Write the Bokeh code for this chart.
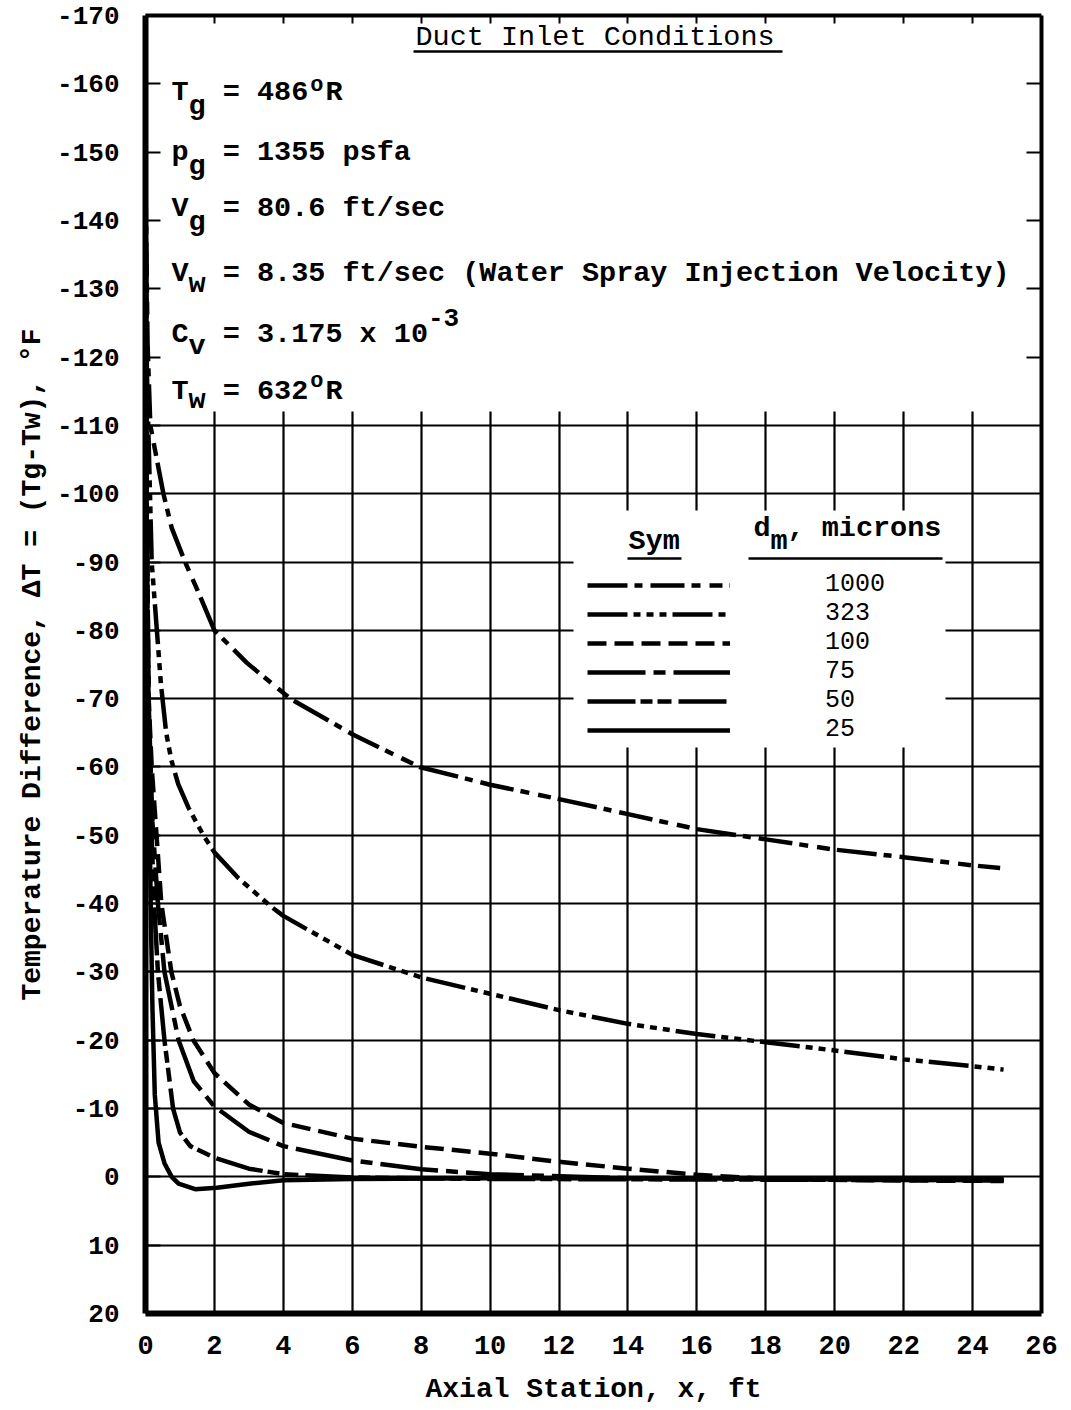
from bokeh.plotting import figure
from bokeh.models import Range1d, LinearAxis, FixedTicker, Label, Legend, LegendItem, BoxAnnotation
from bokeh.embed import file_html
from bokeh.resources import INLINE
from bokeh.core.properties import value

FONT = "Liberation Mono"

# ---------------- data ----------------
sizes = ["1000", "323", "100", "75", "50", "25"]

x_1000 = [0.0, 0.06, 0.14, 0.33, 0.52, 0.76, 1.15, 1.54, 2.0, 2.95, 4.2, 6.0, 7.95, 10.0, 12.0, 14.0, 16.0, 18.0, 20.0, 22.0, 24.0, 24.8]
y_1000 = [-146, -122, -110, -105, -100, -95, -90, -85.5, -80, -75.2, -70, -64.8, -60, -57.4, -55.3, -53.1, -50.9, -49.4, -47.9, -46.8, -45.6, -45.2]

x_323 = [0.0, 0.04, 0.18, 0.33, 0.45, 0.6, 0.75, 0.95, 1.25, 1.68, 2.0, 2.7, 3.66, 4.0, 6.0, 8.0, 10.0, 12.0, 14.0, 16.0, 18.0, 20.0, 22.0, 24.0, 24.9]
y_323 = [-146, -118, -90, -80, -72, -65, -61, -57.5, -54, -50, -47.5, -43.7, -39.5, -38.2, -32.5, -29.2, -26.8, -24.4, -22.4, -20.9, -19.7, -18.5, -17.2, -16.2, -15.7]

x_100 = [0.0, 0.03, 0.09, 0.18, 0.32, 0.46, 0.75, 1.0, 1.39, 2.0, 3.0, 4.0, 6.0, 8.0, 10.0, 12.0, 14.0, 16.0, 18.0, 21.0, 24.9]
y_100 = [-146, -100, -70, -60, -50, -40, -30, -25, -20, -15.2, -10.6, -7.9, -5.6, -4.4, -3.4, -2.2, -1.2, -0.3, 0.3, 0.5, 0.6]

x_75 = [0.0, 0.04, 0.1, 0.2, 0.36, 0.55, 0.96, 1.4, 2.0, 3.0, 4.0, 6.0, 8.0, 10.0, 14.0, 24.9]
y_75 = [-146, -95, -68, -52, -40, -30, -20, -14, -10.3, -6.6, -4.5, -2.4, -1.1, -0.4, 0.2, 0.5]

x_50 = [0.0, 0.03, 0.07, 0.14, 0.25, 0.36, 0.55, 0.8, 1.0, 1.3, 2.0, 3.0, 4.0, 6.0, 10.0, 24.9]
y_50 = [-146, -100, -75, -55, -40, -30, -20, -10, -6.5, -4.5, -2.8, -1.2, -0.4, 0.1, 0.3, 0.5]

x_25 = [0.0, 0.02, 0.05, 0.1, 0.15, 0.2, 0.27, 0.38, 0.55, 0.76, 0.96, 1.44, 2.07, 3.0, 4.0, 6.0, 10.0, 24.9]
y_25 = [-146, -110, -80, -60, -40, -25, -12, -5, -2, 0.0, 1.0, 1.8, 1.6, 1.0, 0.5, 0.3, 0.2, 0.3]

x_ticks = [0, 2, 4, 6, 8, 10, 12, 14, 16, 18, 20, 22, 24, 26]
y_ticks = [-170, -160, -150, -140, -130, -120, -110, -100, -90, -80, -70, -60, -50, -40, -30, -20, -10, 0, 10, 20]
grid_x = [2, 4, 6, 8, 10, 12, 14, 16, 18, 20, 22, 24]
grid_y = [-110, -100, -90, -80, -70, -60, -50, -40, -30, -20, -10, 0, 10]
upper_y_ticks = [-160, -150, -140, -130, -120]

dashes = {
    "1000": "40 7 8 8 34 7 9 9 13 7",
    "323": "40 6 7 6 7 6 7 6",
    "100": "19 8",
    "75": "58 8 12 8",
    "50": "48 5 12 5 14 7",
    "25": "solid",
}
series = [("1000", x_1000, y_1000), ("323", x_323, y_323), ("100", x_100, y_100),
          ("75", x_75, y_75), ("50", x_50, y_50), ("25", x_25, y_25)]

# ---------------- layout ----------------
W, H = 1069, 1408
FRAME_L, FRAME_T = 145, 15   # frame position on the page
FW, FH = 896, 1298
BL = FRAME_L
BT = FRAME_T
BR = W - BL - FW
BB = H - BT - FH
X0, X1 = 0, 26
YT, YB = -170, 20


def X(ix):
    return X0 + (ix - FRAME_L) * (X1 - X0) / FW


def Y(iy):
    return YT + (iy - FRAME_T) * (YB - YT) / FH


p = figure(width=W, height=H, output_backend="svg", toolbar_location=None,
           x_range=Range1d(X0, X1), y_range=Range1d(YB, YT),
           min_border_left=BL, min_border_right=BR, min_border_top=BT, min_border_bottom=BB)
p.background_fill_color = "white"
p.border_fill_color = "white"
p.outline_line_color = None

# bottom axis
xa = p.xaxis[0]
xa.ticker = FixedTicker(ticks=x_ticks)
xa.major_label_overrides = {t: str(t) for t in x_ticks}
xa.axis_line_width = 6
xa.axis_line_color = "black"
xa.major_tick_in = 0
xa.major_tick_out = 0
xa.minor_tick_in = 0
xa.minor_tick_out = 0
xa.major_label_standoff = 22
xa.major_label_text_font = FONT
xa.major_label_text_font_style = "bold"
xa.major_label_text_font_size = "27px"
xa.major_label_text_color = "black"
xa.axis_label = "Axial Station, x, ft"
xa.axis_label_text_font = FONT
xa.axis_label_text_font_style = "bold"
xa.axis_label_text_font_size = "28px"
xa.axis_label_text_color = "black"
xa.axis_label_standoff = 17

# left axis
ya = p.yaxis[0]
ya.ticker = FixedTicker(ticks=y_ticks)
ya.major_label_overrides = {t: str(t) for t in y_ticks}
ya.axis_line_width = 6
ya.axis_line_color = "black"
ya.major_tick_in = 15
ya.major_tick_out = 0
ya.major_tick_line_width = 2
ya.major_tick_line_color = "black"
ya.minor_tick_in = 0
ya.minor_tick_out = 0
ya.major_label_standoff = 26
ya.major_label_text_font = FONT
ya.major_label_text_font_style = "bold"
ya.major_label_text_font_size = "26px"
ya.major_label_text_color = "black"
ya.axis_label = "Temperature Difference, \u0394T = (Tg-Tw), \u00b0F"
ya.axis_label_text_font = FONT
ya.axis_label_text_font_style = "bold"
ya.axis_label_text_font_size = "28px"
ya.axis_label_text_color = "black"
ya.axis_label_standoff = 6

# top and right frame lines with inward ticks
top = LinearAxis(ticker=FixedTicker(ticks=grid_x), major_tick_in=8, major_tick_out=0,
                 minor_tick_in=0, minor_tick_out=0, axis_line_width=4, axis_line_color="black",
                 major_tick_line_width=2, major_tick_line_color="black",
                 major_label_overrides={t: "" for t in grid_x},
                 major_label_text_font_size="0px", major_label_standoff=0)
p.add_layout(top, "above")
right = LinearAxis(ticker=FixedTicker(ticks=upper_y_ticks), major_tick_in=15, major_tick_out=0,
                   minor_tick_in=0, minor_tick_out=0, axis_line_width=4, axis_line_color="black",
                   major_tick_line_width=2, major_tick_line_color="black",
                   major_label_overrides={t: "" for t in upper_y_ticks},
                   major_label_text_font_size="0px", major_label_standoff=0)
p.add_layout(right, "right")

# grid
p.xgrid.ticker = FixedTicker(ticks=grid_x)
p.ygrid.ticker = FixedTicker(ticks=grid_y)
p.xgrid.grid_line_color = "black"
p.ygrid.grid_line_color = "black"
p.xgrid.grid_line_width = 2.2
p.ygrid.grid_line_width = 2.2
p.xgrid.grid_line_alpha = 1.0
p.ygrid.grid_line_alpha = 1.0
try:
    p.xgrid.cross_bounds = (YB, -112)
except Exception:
    p.xgrid.visible = False
    p.segment(x0=grid_x, x1=grid_x, y0=[YB] * len(grid_x), y1=[-112] * len(grid_x),
              line_color="black", line_width=2.2)

# curves
rends = {}
for name, xs, ys in series:
    rends[name] = p.line(xs, ys, line_color="black", line_width=4.5,
                         line_dash=dashes[name], line_join="round")

# white legend area
p.add_layout(BoxAnnotation(left=X(573), right=X(945), top=Y(510), bottom=Y(747),
                           fill_color="white", fill_alpha=1.0, line_color=None))

legend = Legend(items=[LegendItem(label=value(n), renderers=[rends[n]]) for n in sizes],
                location=(587 - FRAME_L, (FRAME_T + FH) - 744),
                orientation="vertical", glyph_width=143, glyph_height=28, label_height=28,
                label_standoff=95, spacing=0, padding=0, margin=0,
                border_line_color=None, background_fill_alpha=0.0,
                label_text_font=FONT, label_text_font_size="25px",
                label_text_font_style="normal", label_text_color="black")
p.add_layout(legend)

DESC = 0.3  # baseline correction, fraction of font size


def lab(ix, iy, text, size=28.5, bold=True):
    p.add_layout(Label(x=X(ix), y=Y(iy - DESC * size), text=text, text_font=FONT,
                       text_font_size=f"{size}px",
                       text_font_style="bold" if bold else "normal",
                       text_color="black", text_align="left", text_baseline="alphabetic"))


PITCH = 17.1
C0 = 171


def col(i):
    return C0 + i * PITCH


# condition block
lab(415, 46, "Duct Inlet Conditions", bold=False)

lab(col(0), 101, "T"); lab(col(1), 115, "g"); lab(col(3), 101, "= 486")
lab(col(8) + 2, 92, "o", size=22); lab(col(9), 101, "R")

lab(col(0), 161, "p"); lab(col(1), 175, "g"); lab(col(3), 161, "= 1355 psfa")

lab(col(0), 217, "V"); lab(col(1), 231, "g"); lab(col(3), 217, "= 80.6 ft/sec")

lab(col(0), 282, "V"); lab(col(1), 293, "w")
lab(col(3), 282, "= 8.35 ft/sec (Water Spray Injection Velocity)")

lab(col(0), 343, "C"); lab(col(1), 355, "v"); lab(col(3), 343, "= 3.175 x 10")
lab(col(15), 325, "-3", size=26)

lab(col(0), 400, "T"); lab(col(1), 409, "w"); lab(col(3), 400, "= 632")
lab(col(8) + 2, 388, "o", size=22); lab(col(9), 400, "R")

# legend header
lab(628, 550, "Sym")
lab(753, 537, "d"); lab(770, 550, "m"); lab(787, 537, ", microns")

# underlines
ul = p.segment(x0=[X(413), X(627), X(748)], y0=[Y(51), Y(558), Y(558)],
               x1=[X(782), X(681), X(942)], y1=[Y(51), Y(558), Y(558)],
               line_color="black", line_width=2.5)
ul.level = "overlay"

open("out.html", "w").write(file_html(p, INLINE))
